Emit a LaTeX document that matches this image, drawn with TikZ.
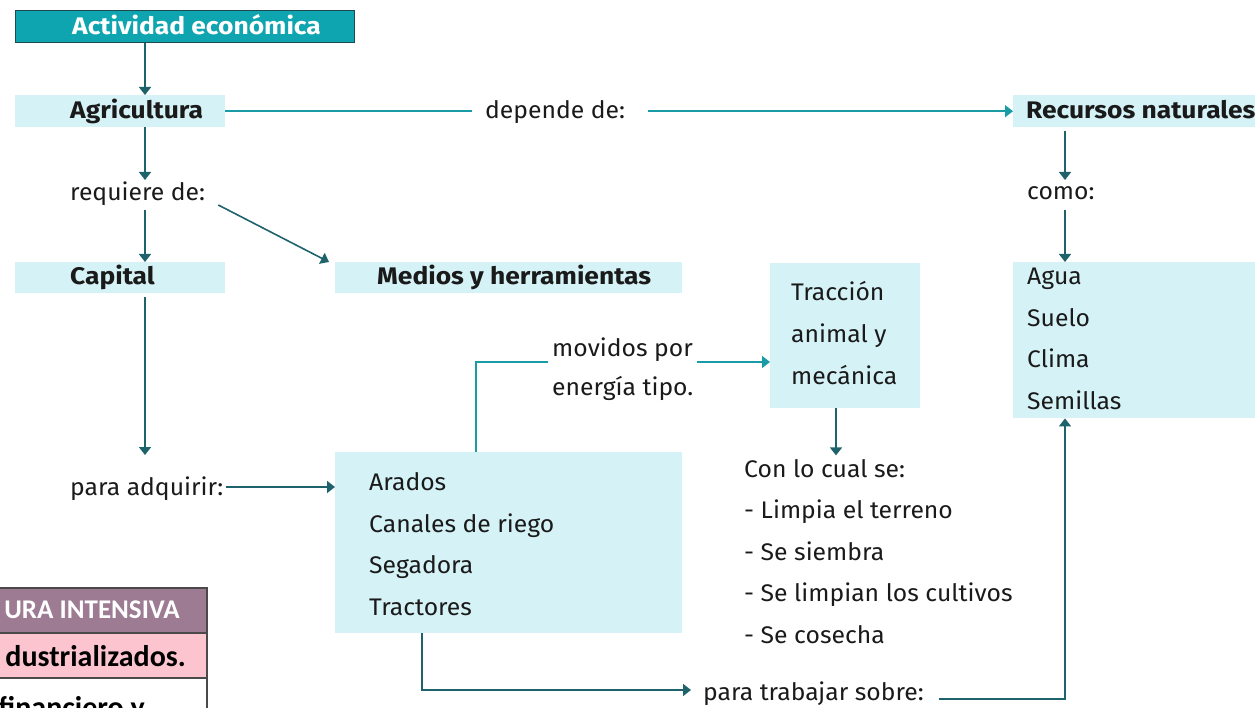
\documentclass[tikz,border=0pt]{standalone}
\usepackage{fontspec}
\setmainfont{Fira Sans}[FakeStretch=1.03, BoldFeatures={FakeStretch=1.1}]
\newfontfamily\tabfont{Carlito}
\usetikzlibrary{arrows.meta}
\definecolor{hdrfill}{HTML}{0FA5B0}
\definecolor{hdrline}{HTML}{1F4A50}
\definecolor{boxfill}{HTML}{D5F2F7}
\definecolor{darkln}{HTML}{1E636B}
\definecolor{brightln}{HTML}{1A9CA6}
\definecolor{txtcol}{HTML}{1A1A1A}
\definecolor{tabhead}{HTML}{9C7B93}
\definecolor{tabpink}{HTML}{FBC4CF}
\definecolor{tabline}{HTML}{4A4A4A}
\newcommand\myfs{\fontsize{24}{41.5}\selectfont}
\begin{document}
\begin{tikzpicture}[x=1pt,y=-1pt,
  box/.style={fill=boxfill, inner sep=0pt, anchor=north west},
  txt/.style={font=\myfs, text=txtcol, inner sep=0pt, anchor=base west, align=left},
  btxt/.style={txt, font=\myfs\bfseries},
  tip/.style={-{Triangle[width=12pt,length=8pt]}},
  darr/.style={draw=darkln, line width=1.6pt, tip},
  barr/.style={draw=brightln, line width=1.6pt, tip},
  bline/.style={draw=brightln, line width=1.6pt},
  dline/.style={draw=darkln, line width=1.6pt},
  cell/.style={draw=tabline, line width=1.2pt},
  ttxt/.style={font=\tabfont\bfseries\fontsize{30}{34}\selectfont, inner sep=0pt, anchor=east}
]
\useasboundingbox (0,0) rectangle (1255,708);
\clip (0,0) rectangle (1255,708);

% header
\node[fill=hdrfill, draw=hdrline, line width=1.2pt, anchor=north west, minimum width=339pt, minimum height=32pt, inner sep=0pt] (act) at (15,10) {};
\node[btxt, text=white, anchor=base west] (actT) at (72,35) {Actividad económica};

% boxes
\node[box, minimum width=210pt, minimum height=32pt] (agri) at (15,95) {};
\node[btxt] (agriT) at (70,119) {Agricultura};
\node[box, minimum width=242pt, minimum height=32pt] (rec) at (1013,95) {};
\node[btxt] (recT) at (1026,119) {Recursos naturales};
\node[box, minimum width=210pt, minimum height=31pt] (cap) at (15,262) {};
\node[btxt] (capT) at (70,285) {Capital};
\node[box, minimum width=347pt, minimum height=31pt] (med) at (335,262) {};
\node[btxt] (medT) at (377,285) {Medios y herramientas};
\node[box, minimum width=242pt, minimum height=156pt] (agua) at (1013,262) {};
\node[txt] (aguaT) at (1027,409) {Agua\\Suelo\\Clima\\Semillas};
\node[box, minimum width=347pt, minimum height=181pt] (ara) at (335,452) {};
\node[txt] (araT) at (369,615) {Arados\\Canales de riego\\Segadora\\Tractores};
\node[box, minimum width=150pt, minimum height=145pt] (trac) at (770,263) {};
\node[txt] (tracT) at (791,384) {Tracción\\animal y\\mecánica};

% labels
\node[txt] (dep) at (485,119) {depende de:};
\node[txt] (como) at (1027,200) {como:};
\node[txt] (req) at (70,201) {requiere de:};
\node[txt] (adq) at (70,495) {para adquirir:};
\node[txt] (mov1) at (552,356) {movidos por};
\node[txt] (mov2) at (552,395) {energía tipo.};
\node[txt] (con) at (744,643) {Con lo cual se:\\- Limpia el terreno\\- Se siembra\\- Se limpian los cultivos\\- Se cosecha};
\node[txt] (trab) at (703,700) {para trabajar sobre:};

\coordinate (axL) at (145,0);
\coordinate (axR) at (1065,0);

% connectors
\draw[darr] (act.south -| axL) -- (agri.north -| axL);
\draw[bline] (agri.east) -- ([xshift=-13pt]agri.east -| dep.west);
\draw[barr] ([xshift=23pt]agri.east -| dep.east) -- (rec.west);
\draw[darr] ([yshift=-4pt]rec.south -| axR) -- ([yshift=20pt]como.base -| axR);
\draw[darr] ([yshift=-10pt]como.base -| axR) -- (agua.north -| axR);
\draw[darr] (agri.south -| axL) -- ([yshift=21pt]req.base -| axL);
\draw[darr] ([yshift=-9pt]req.base -| axL) -- (cap.north -| axL);
\draw[darr] ([xshift=13pt,yshift=-4pt]req.base east) -- ([xshift=-6pt]med.north west);
\draw[darr] ([yshift=-4pt]cap.south -| axL) -- ([yshift=40pt]adq.base -| axL);
\draw[darr] ([xshift=2pt,yshift=8pt]adq.base east) -- ([yshift=8pt]adq.base east -| ara.west);
\draw[bline] ([xshift=141pt]ara.north west) |- ([xshift=-4pt,yshift=-6pt]mov1.base west);
\draw[barr] ([xshift=4pt,yshift=-6pt]mov1.base east) -- ([yshift=-6pt]mov1.base east -| trac.west);
\draw[darr] ([xshift=66pt]trac.south west) -- ([xshift=66pt,yshift=-47pt]trac.south west);
\draw[darr] ([xshift=87pt]ara.south west) |- ([xshift=-12pt,yshift=10pt]trab.base west);
\draw[darr] ([xshift=15pt,yshift=1pt]trab.base east) -| (agua.south -| axR);

% table fragment
\fill[tabhead] (0,588) rectangle (207,633);
\fill[tabpink] (0,633) rectangle (207,678);
\draw[cell] (0,588) -- (207,588) -- (207,708);
\draw[cell] (0,633) -- (207,633);
\draw[cell] (0,678) -- (207,678);
\node[ttxt, text=white, font=\tabfont\bfseries\fontsize{27}{31}\selectfont] (th) at (180,610) {URA INTENSIVA};
\node[ttxt, text=black] (t1) at (186,656) {dustrializados.};
\node[ttxt, text=black, anchor=base east] (t2) at (145,717) {financiero y};
\end{tikzpicture}
\end{document}
